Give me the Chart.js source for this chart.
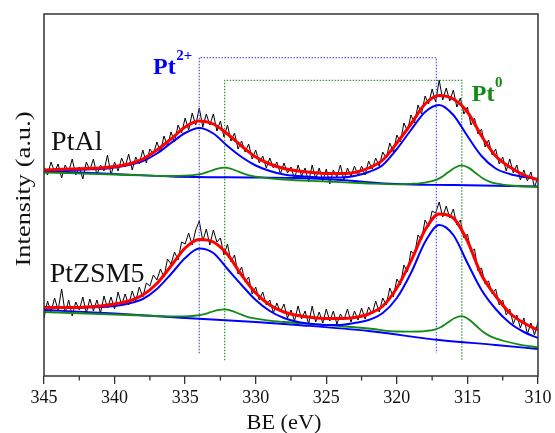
<!DOCTYPE html>
<html>
<head>
<meta charset="utf-8">
<script src="https://cdn.jsdelivr.net/npm/chart.js@4.4.0/dist/chart.umd.min.js"></script>
<style>
    html, body { margin: 0; padding: 0; background: #fff; }
    #wrap { width: 555px; height: 433px; }
</style>
</head>
<body>
<div id="wrap"><canvas id="xps" width="555" height="433"></canvas></div>
<script>
// Widmo XPS Pt 4d (jednostki umowne)

// siatka energii dla krzywych dopasowania (co 1 eV)
const beFit = [345, 344, 343, 342, 341, 340, 339, 338, 337, 336, 335, 334, 333, 332, 331, 330, 329, 328,
    327, 326, 325, 324, 323, 322, 321, 320, 319, 318, 317, 316, 315, 314, 313, 312, 311, 310];

// siatka dla skladowej Pt0 (gesciej przy maksimach)
const bePt0 = [345, 340, 337, 336, 335.2, 334.7, 334.2, 333.7, 333.2, 332.7, 332.2, 331.7, 331.2, 330.7, 330.2, 329.2,
    328, 325, 322, 320, 319, 318.4, 317.9, 317.4, 316.9, 316.4, 315.9, 315.4, 314.9, 314.4, 313.9, 313.4,
    312.9, 312.4, 311.4, 310];

// PtAl
const fitPtAl = [206, 206.5, 207, 207.5, 208, 209.5, 212, 217, 226, 237, 249, 255, 252, 242, 230, 219, 212, 207.5,
    205, 203.5, 202.5, 202.5, 203.5, 208, 216, 233, 252, 272, 280.5, 277, 264, 240, 220, 209, 201, 196];
const pt2PtAl = [205.5, 205.5, 206, 206.5, 207, 208.5, 211, 215, 222.5, 233, 243, 248, 242.5, 230, 219, 210.5, 205, 201.5,
    200, 199, 198.5, 198.5, 200, 204, 211, 227, 246, 264, 271, 261, 240, 220, 207.5, 202, 199, 197];
const pt0PtAl = [203.5, 201.5, 200.2, 200, 200.3, 200.5, 201.3, 202.7, 205, 207.4, 208.4, 207, 204.3, 201.6, 199.8, 197.9,
    196.5, 194.5, 192.5, 191.7, 192.2, 192.7, 193.7, 195.3, 198.4, 203.4, 208.3, 210.6, 208.1, 202.8, 197.6, 194.2,
    192.3, 191.2, 190, 189];
const baseBePtAl = [345, 340, 336, 330, 327, 324, 320, 316, 310];
const basePtAl = [205, 202, 199.5, 198.5, 198, 196, 192, 191, 189.5];

// PtZSM5
const fitPtZSM5 = [68.5, 68.5, 68.5, 69, 70, 72, 75, 81, 92.5, 110, 128, 136.5, 134, 121.5, 101, 83, 71, 64,
    60.5, 58.5, 57.5, 57.5, 58.5, 62, 70, 88, 115, 146, 162, 158, 135, 101, 80, 63, 53, 46];
const pt2PtZSM5 = [67.5, 68, 68, 68.5, 69, 70, 72.5, 77, 87, 102, 118, 127.5, 123, 107, 91, 76, 65, 58,
    54, 52, 51, 51, 53, 56, 63, 78, 103, 134, 151, 141, 113, 86, 67, 53, 44, 38];
const pt0PtZSM5 = [64, 61.5, 60, 59.5, 59.7, 59.8, 60.5, 61.6, 63.8, 65.9, 66.7, 65.2, 62.5, 59.6, 57.8, 55.6,
    54, 51, 47.5, 44.5, 44.4, 44.5, 45.1, 46.2, 48.8, 53.4, 58, 59.9, 56.6, 50.5, 44.2, 39.9,
    37.1, 35, 31.7, 28.5];
const baseBePtZSM5 = [345, 340, 335, 330, 327, 322, 317, 313, 310];
const basePtZSM5 = [66, 62.5, 58, 54, 51, 45, 36, 31, 27];

// dane pomiarowe (krok 0.25 eV, od 345 do 310)
const beRaw = [];
for (let i = 0; i <= 140; i++) beRaw.push(345 - i * 0.25);

const rawPtAl = [209,
    201, 214, 204, 212,   198, 211, 204, 217,   201, 209, 197, 214,   206, 217, 201, 211,
    205, 221, 201, 214,   205, 218, 209, 222,   206, 219, 212, 226,   213, 227, 222, 234,
    224, 240, 230, 244,   234, 251, 243, 258,   246, 263, 251, 268,   249, 262, 251, 262,
    245, 255, 239, 251,   235, 243, 227, 235,   224, 232, 217, 226,   213, 220, 208, 218,
    208, 214, 202, 213,   203, 209, 197, 211,   200, 208, 194, 211,   197, 208, 195, 207,
    192, 206, 199, 211,   196, 208, 200, 210,   200, 210, 201, 215,   207, 218, 210, 224,
    218, 233, 224, 241,   234, 253, 245, 261,   253, 271, 262, 280,   272, 287, 274, 296,
    276, 288, 275, 286,   269, 278, 262, 269,   251, 258, 242, 247,   229, 236, 221, 227,
    212, 219, 205, 217,   203, 211, 196, 206,   195, 204, 189, 199];

const rawPtZSM5 = [58,
    75, 64, 78, 66,   87, 63, 76, 60,   74, 66, 79, 63,   77, 65, 76, 63,
    80, 68, 79, 67,   84, 71, 82, 71,   85, 75, 89, 79,   93, 90, 101, 96,
    107, 99, 117, 112,   124, 116, 134, 132,   143, 131, 146, 155,   135, 147, 131, 146,
    134, 138, 121, 132,   114, 121, 102, 109,   94, 99, 82, 89,   76, 84, 71, 76,
    63, 73, 64, 72,   58, 66, 55, 70,   57, 65, 52, 70,   54, 64, 53, 67,
    55, 65, 52, 62,   56, 67, 54, 65,   56, 68, 57, 69,   62, 75, 64, 78,
    71, 88, 79, 97,   91, 111, 104, 125,   121, 141, 136, 156,   149, 165, 163, 174,
    159, 170, 158, 167,   151, 156, 138, 142,   124, 127, 105, 108,   92, 95, 82, 87,
    71, 76, 61, 67,   52, 61, 48, 58,   42, 53, 41, 54];

// linie pomocnicze (kropkowane) dla Pt2+ i Pt0
const guideBlueX = [334.0, 334.0, 317.2, 317.2];
const guideBlueY = [22.7, 318.4, 318.4, 22.7];
const guideGreenX = [332.2, 332.2, 315.4, 315.4];
const guideGreenY = [15.7, 295.7, 295.7, 15.7];

// etykiety osi X
const xTickStep = 2.5;

function pts(xs, ys) {
    return xs.map((x, i) => ({ x: x, y: ys[i] }));
}

function smooth(label, xs, ys, color, width) {
    return {
        label: label,
        data: pts(xs, ys),
        borderColor: color,
        borderWidth: width,
        pointRadius: 0,
        fill: false,
        cubicInterpolationMode: 'monotone'
    };
}

function plain(label, xs, ys, color, width, dash) {
    return {
        label: label,
        data: pts(xs, ys),
        borderColor: color,
        borderWidth: width,
        borderDash: dash || [],
        pointRadius: 0,
        fill: false,
        tension: 0
    };
}

// tekst rozciagniety do zadanej szerokosci
function stretchText(ctx, text, x, y, targetW, rot) {
    ctx.save();
    ctx.translate(x, y);
    if (rot) ctx.rotate(rot);
    const w = ctx.measureText(text).width;
    ctx.scale(targetW / w, 1);
    ctx.textAlign = 'center';
    ctx.textBaseline = 'alphabetic';
    ctx.fillText(text, 0, 0);
    ctx.restore();
}

const decorations = {
    id: 'decorations',
    afterDraw(chart) {
        const { ctx, chartArea: a } = chart;
        const xs = chart.scales.x, ys = chart.scales.y;
        ctx.save();

        // ramka
        ctx.strokeStyle = '#333';
        ctx.lineWidth = 1.5;
        ctx.strokeRect(a.left, a.top, a.right - a.left, a.bottom - a.top);

        // krotkie znaczniki co 2.5 eV
        ctx.lineWidth = 1.3;
        xs.ticks.forEach(t => {
            if (t.value % 5 !== 0) {
                const px = xs.getPixelForValue(t.value);
                ctx.beginPath();
                ctx.moveTo(px, a.bottom);
                ctx.lineTo(px, a.bottom + 4.5);
                ctx.stroke();
            }
        });

        // tytuly osi
        ctx.fillStyle = '#111';
        ctx.font = '20px "Liberation Serif"';
        stretchText(ctx, 'Intensity (a.u.)', 30, 189, 155, -Math.PI / 2);
        stretchText(ctx, 'BE (eV)', 284, 429, 75, 0);

        // nazwy probek
        ctx.textAlign = 'left';
        ctx.textBaseline = 'alphabetic';
        ctx.font = '28px "Liberation Serif"';
        ctx.fillText('PtAl', xs.getPixelForValue(344.5), ys.getPixelForValue(225.7));
        ctx.fillText('PtZSM5', xs.getPixelForValue(344.6), ys.getPixelForValue(94));

        // Pt2+ i Pt0
        const drawSup = (base, sup, ev, val, color) => {
            const px = xs.getPixelForValue(ev), py = ys.getPixelForValue(val);
            ctx.fillStyle = color;
            ctx.font = 'bold 24px "Liberation Serif"';
            ctx.fillText(base, px, py);
            const w = ctx.measureText(base).width;
            ctx.font = 'bold 15px "Liberation Serif"';
            ctx.fillText(sup, px + w + 0.5, py - 14);
        };
        drawSup('Pt', '2+', 337.27, 302.4, '#0000ff');
        drawSup('Pt', '0', 314.69, 274.7, '#138a13');

        ctx.restore();
    }
};

const datasets = [
    smooth('fit PtAl', beFit, fitPtAl, '#ff0000', 3),
    smooth('fit PtZSM5', beFit, fitPtZSM5, '#ff0000', 3),
    smooth('Pt2+ PtAl', beFit, pt2PtAl, '#0000ff', 2),
    smooth('Pt2+ PtZSM5', beFit, pt2PtZSM5, '#0000ff', 2),
    smooth('Pt0 PtAl', bePt0, pt0PtAl, '#138a13', 1.8),
    smooth('Pt0 PtZSM5', bePt0, pt0PtZSM5, '#138a13', 1.8),
    smooth('tlo PtAl', baseBePtAl, basePtAl, '#0000ff', 1.8),
    smooth('tlo PtZSM5', baseBePtZSM5, basePtZSM5, '#0000ff', 1.8),
    plain('Pt2+ linia', guideBlueX, guideBlueY, '#5a5aff', 1.3, [1.5, 1.5]),
    plain('Pt0 linia', guideGreenX, guideGreenY, '#3a9a3a', 1.3, [1.5, 1.5]),
    plain('PtAl pomiar', beRaw, rawPtAl, '#000000', 1),
    plain('PtZSM5 pomiar', beRaw, rawPtZSM5, '#000000', 1)
];

const chart = new Chart(document.getElementById('xps').getContext('2d'), {
    type: 'line',
    data: { datasets: datasets },
    options: {
        responsive: false,
        animation: false,
        devicePixelRatio: 1,
        layout: { padding: { left: 44, top: 14, right: 17, bottom: 0 } },
        plugins: {
            legend: { display: false },
            tooltip: { enabled: false }
        },
        scales: {
            x: {
                type: 'linear',
                min: 310,
                max: 345,
                reverse: true,
                afterFit: s => { s.height = 57; },
                border: { display: false },
                grid: {
                    drawOnChartArea: false,
                    drawTicks: true,
                    tickLength: 8,
                    lineWidth: 1.3,
                    color: c => (c.tick && c.tick.value % 5 === 0) ? '#333' : 'rgba(0,0,0,0)'
                },
                ticks: {
                    stepSize: xTickStep,
                    autoSkip: false,
                    maxRotation: 0,
                    padding: 3,
                    color: '#111',
                    font: { family: 'Liberation Serif', size: 18 },
                    callback: v => (v % 5 === 0 ? v : '')
                }
            },
            y: {
                type: 'linear',
                display: false,
                min: 0,
                max: 362
            }
        }
    },
    plugins: [decorations]
});
</script>
</body>
</html>
